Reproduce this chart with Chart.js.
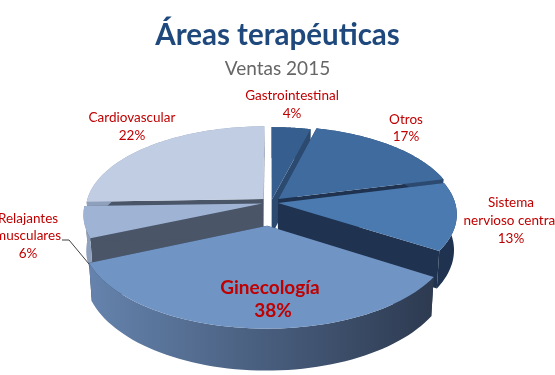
<!DOCTYPE html>
<html lang="es">
<head>
  <meta charset="UTF-8">
  <title>Áreas terapéuticas</title>
  <script src="https://cdn.jsdelivr.net/npm/chart.js"></script>
  <style>
    html, body { margin: 0; padding: 0; background: #fff; overflow: hidden; }
    canvas { display: block; }
  </style>
</head>
<body>
  <canvas id="grafico" width="555" height="375"></canvas>
  <script>
    const categorias = ['Gastrointestinal', 'Otros', 'Sistema nervioso central', 'Ginecología', 'Relajantes musculares', 'Cardiovascular'];
    // porcentajes impresos en las etiquetas
    const porcentajes = [4, 17, 13, 38, 6, 22];
    // tamaño de cada porción tal como está dibujada (no coincide del todo con las etiquetas en Ginecología y Cardiovascular)
    const porciones = [4, 17, 13, 34.5, 6, 25.5];
    const separacion = [3, 6, 4, 27, 5, 6];

    const colorTapa = ['#365f8f', '#3f6b9e', '#4a7ab0', '#7094c4', '#9fb3d4', '#c1cde2'];
    const colorCorte = ['#2c4a70', '#1f3350', '#1f3350', '#2d3a50', '#4a5568', '#4a5568'];
    const colorBordeIzq = ['#2c4a70', '#2c4a70', '#1f3350', '#6583ad', '#8ea0bc', '#8ea0bc'];
    const colorBordeDer = ['#2c4a70', '#2c4a70', '#1f3350', '#2d3a50', '#8ea0bc', '#8ea0bc'];

    // proyección del plano de la tarta
    const cx = 271, cy = 202.5, rx = 177, ry = 83, fuga = 0.13, alto = 35;

    function proyectar(px, py, abajo) {
      const s = 1 / (1 - fuga * py);
      const cierre = abajo ? 0.985 : 1;
      return [cx + px * rx * s * cierre, cy + py * ry * s + (abajo ? alto * s : 0)];
    }

    function trazar(ctx, puntos) {
      ctx.beginPath();
      puntos.forEach((p, i) => i ? ctx.lineTo(p[0], p[1]) : ctx.moveTo(p[0], p[1]));
      ctx.closePath();
      ctx.fill();
    }

    function dibujarPorcion(ctx, el, i) {
      const medio = (el.startAngle + el.endAngle) / 2;
      const d = el.options.offset / 100;
      const ox = Math.cos(medio) * d, oy = Math.sin(medio) * d;
      const arco = [];
      const pasos = 60;
      for (let n = 0; n <= pasos; n++) {
        const a = el.startAngle + (el.endAngle - el.startAngle) * n / pasos;
        arco.push([ox + Math.cos(a), oy + Math.sin(a)]);
      }
      const arriba = p => proyectar(p[0], p[1], false);
      const abajo = p => proyectar(p[0], p[1], true);
      const punta = [ox, oy];

      // caras de corte
      ctx.fillStyle = colorCorte[i];
      [arco[0], arco[pasos]].forEach(b => {
        trazar(ctx, [arriba(punta), arriba(b), abajo(b), abajo(punta)]);
      });

      // borde exterior
      const sup = arco.map(arriba), inf = arco.map(abajo);
      const xs = sup.map(p => p[0]);
      const grad = ctx.createLinearGradient(Math.min(...xs), 0, Math.max(...xs), 0);
      grad.addColorStop(0, colorBordeIzq[i]);
      grad.addColorStop(1, colorBordeDer[i]);
      ctx.fillStyle = grad;
      trazar(ctx, sup.concat(inf.slice().reverse()));

      // tapa
      ctx.fillStyle = el.options.backgroundColor;
      trazar(ctx, [arriba(punta)].concat(sup));
    }

    const tarta3d = {
      id: 'tarta3d',
      beforeDatasetDraw(chart) {
        const ctx = chart.ctx;
        const arcos = chart.getDatasetMeta(0).data.map((el, i) => ({ el, i }));
        // de atrás hacia delante
        arcos.sort((a, b) => Math.sin((a.el.startAngle + a.el.endAngle) / 2) * (1 + a.el.options.offset / 100)
          - Math.sin((b.el.startAngle + b.el.endAngle) / 2) * (1 + b.el.options.offset / 100));
        ctx.save();
        arcos.forEach(a => dibujarPorcion(ctx, a.el, a.i));
        ctx.restore();
        return false;
      },
      afterDraw(chart) {
        const ctx = chart.ctx;
        ctx.save();
        // línea guía de Relajantes
        ctx.strokeStyle = '#404040';
        ctx.lineWidth = 1;
        ctx.beginPath();
        ctx.moveTo(62, 240);
        ctx.lineTo(69, 240);
        ctx.lineTo(89, 264);
        ctx.stroke();

        ctx.fillStyle = '#c00000';
        ctx.textAlign = 'center';
        ctx.textBaseline = 'middle';
        ctx.font = '13.5px Lato, "Open Sans", sans-serif';
        ctx.fillText(categorias[0], 292, 96);
        ctx.fillText(porcentajes[0] + '%', 292, 114);
        ctx.fillText(categorias[1], 406, 120);
        ctx.fillText(porcentajes[1] + '%', 406, 137);
        ctx.fillText('Sistema', 511, 203);
        ctx.fillText('nervioso central', 511, 221);
        ctx.fillText(porcentajes[2] + '%', 511, 239);
        ctx.fillText(categorias[5], 132, 118);
        ctx.fillText(porcentajes[5] + '%', 132, 136);
        ctx.fillText('Relajantes', 28, 219);
        ctx.fillText('musculares', 28, 236);
        ctx.fillText(porcentajes[4] + '%', 28, 254);
        ctx.font = 'bold 19px Lato, "Open Sans", sans-serif';
        ctx.fillText(categorias[3], 270, 288);
        ctx.fillText(porcentajes[3] + '%', 273, 311);
        ctx.restore();
      }
    };

    new Chart(document.getElementById('grafico'), {
      type: 'pie',
      data: {
        labels: categorias,
        datasets: [{
          data: porciones,
          backgroundColor: colorTapa,
          offset: separacion,
          borderWidth: 0
        }]
      },
      options: {
        responsive: false,
        animation: false,
        plugins: {
          legend: { display: false },
          tooltip: { enabled: false },
          title: {
            display: true,
            text: 'Áreas terapéuticas',
            color: '#1f497d',
            font: { family: 'Lato', size: 29.5, weight: 'bold' },
            padding: { top: 18, bottom: 2 }
          },
          subtitle: {
            display: true,
            text: 'Ventas 2015',
            color: '#666666',
            font: { family: 'Lato', size: 19 },
            padding: { top: 2, bottom: 10 }
          }
        }
      },
      plugins: [tarta3d]
    });
  </script>
</body>
</html>
